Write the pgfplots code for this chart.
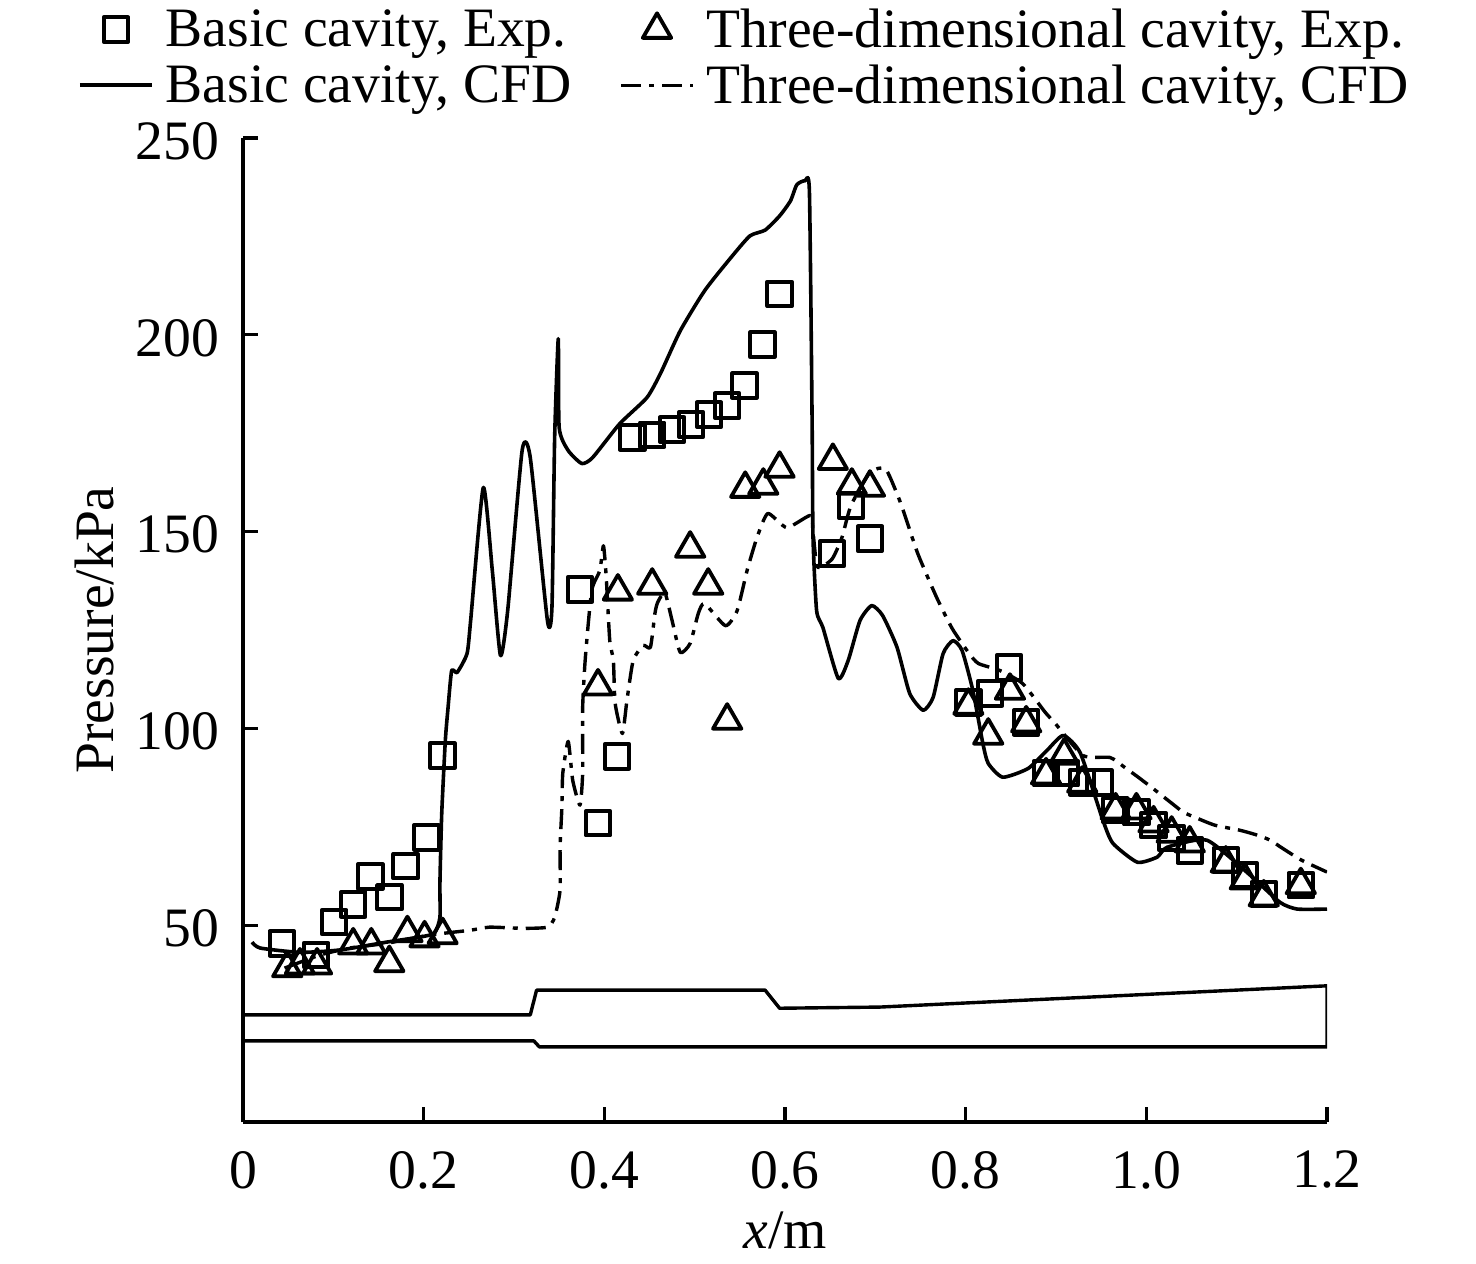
\documentclass[border=0pt]{standalone}
\usepackage{fontspec}
\setmainfont{Liberation Serif}
\usepackage{pgfplots}
\pgfplotsset{compat=1.18}

\begin{document}
\begin{tikzpicture}
\useasboundingbox (0,0) rectangle (738pt,631.5pt);
\begin{axis}[
    at={(121.5pt,70.5pt)}, anchor=south west,
    scale only axis, width=542pt, height=492pt,
    xmin=0, xmax=1.2, ymin=0, ymax=250,
    axis x line*=bottom, axis y line*=left,
    axis line style={-, line width=1.7pt},
    tick style={line width=1.7pt, black},
    tick align=inside, major tick length=7.5pt,
    xtick={0,0.2,0.4,0.6,0.8,1.0,1.2},
    xticklabels={0,0.2,0.4,0.6,0.8,1.0,1.2},
    ytick={50,100,150,200,250},
    /pgf/number format/assume math mode=true,
    ticklabel style={font=\fontsize{27.8}{30}\selectfont},
    yticklabel style={xshift=-8.5pt, yshift=-1.5pt},
    xticklabel style={yshift=-11pt},
    xtick pos=bottom, ytick pos=left,
    xlabel={\textit{x}/m}, ylabel={Pressure/kPa},
    every axis y label/.style={at={(axis description cs:-0.137,0.5)}, rotate=90, anchor=center, font=\fontsize{27.8}{30}\selectfont},
    every axis x label/.style={at={(axis description cs:0.5,-0.11)}, anchor=center, font=\fontsize{27.8}{30}\selectfont},
    legend image code/.code={\draw[mark repeat=2,mark phase=2,#1] plot coordinates {(0pt,0pt)(18pt,0pt)(36pt,0pt)};\path (40pt,0pt);},
    legend columns=2, legend cell align=left,
    legend style={draw=none, fill=none, at={(axis description cs:0.4635,1.028)}, anchor=south,
        font=\fontsize{27.8}{28}\selectfont, row sep=3pt, inner sep=0pt,
        /tikz/every even column/.append style={column sep=22pt}},
    line join=round,
]
\addplot[only marks, mark=square, mark size=6.1pt, mark options={line width=2pt}] coordinates {
(.043,45.4)(.081,42.4)(.101,50.8)(.122,55.3)(.141,62.4)(.162,57.1)(.180,65.0)(.203,72.3)(.221,93.1)
(.373,135.3)(.393,75.9)(.414,92.9)(.431,173.9)(.453,174.6)(.475,175.9)(.496,177.2)(.516,179.7)
(.536,182.0)(.555,187.1)(.575,197.5)(.594,210.4)(.652,144.4)(.673,156.6)(.694,148.2)(.803,106.6)
(.827,108.9)(.848,115.5)(.867,101.5)(.889,88.6)(.911,88.6)(.929,86.3)(.948,86.3)(.966,79.2)
(.989,78.7)(1.008,75.4)(1.028,72.1)(1.048,69.0)(1.088,66.5)(1.109,62.7)(1.130,57.9)(1.171,60.2)
};
\addlegendentry{Basic cavity, Exp.}
\addplot[only marks, mark=triangle, mark size=8.2pt, mark options={line width=1.9pt}] coordinates {
(.049,39.1)(.063,39.8)(.082,39.8)(.122,44.9)(.142,44.9)(.162,40.4)(.182,48.0)(.201,46.7)(.221,47.5)
(.393,110.7)(.415,134.8)(.453,136.3)(.495,145.7)(.515,136.3)(.536,102.0)(.556,160.9)(.576,161.7)
(.594,166.0)(.653,168.0)(.674,161.7)(.694,161.2)(.803,105.8)(.825,98.2)(.849,109.6)(.867,101.3)
(.889,88.1)(.909,93.1)(.929,86.0)(.966,79.2)(.989,79.2)(1.008,75.9)(1.028,73.3)(1.048,70.8)
(1.088,65.7)(1.109,61.4)(1.130,57.1)(1.171,60.2)
};
\addlegendentry{Three-dimensional cavity, Exp.}
% basic cavity CFD
\addplot[black, line width=1.8pt, smooth, tension=0.35] coordinates {
(.010,45.7)(.019,44.2)(.063,43.1)(.107,43.7)(.159,45.7)(.196,47.0)(.212,48.0)(.218,52.0)(.218,60.7)(.220,78.4)
(.224,97.0)(.227,105.3)(.231,114.7)(.237,114.2)(.248,119.0)(.252,127.4)(.266,161.2)(.276,140.1)
(.285,118.5)(.293,129.9)(.309,170.6)(.318,168.8)(.337,127.4)(.342,130.7)(.345,173.9)(.349,199.0)
(.350,176.4)(.360,170.6)(.375,167.3)(.387,168.8)(.417,177.4)(.447,184.0)(.462,190.1)(.484,201.0)
(.511,211.2)(.539,219.3)(.561,225.1)(.578,226.6)(.594,230.2)(.606,234.0)(.613,238.1)(.622,239.1)
(.627,236.5)(.630,178.2)(.631,148.5)(.635,129.9)(.642,125.6)(.659,112.7)(.670,117.3)(.683,127.4)
(.696,131.2)(.708,128.7)(.724,120.6)(.738,108.9)(.753,104.6)(.764,107.9)(.775,119.0)(.786,122.3)
(.796,119.8)(.808,109.6)(.819,96.2)(.825,91.1)(.841,87.6)(.869,89.8)(.890,94.4)(.908,98.2)
(.927,93.7)(.952,76.6)(.963,70.8)(.990,66.0)(1.012,67.3)(1.023,69.8)(1.067,71.6)(1.115,62.7)
(1.148,55.8)(1.167,54.1)(1.2,54.1)
};
\addlegendentry{Basic cavity, CFD}
% three-dimensional cavity CFD
\addplot[black, line width=1.7pt, smooth, tension=0.35, dash pattern=on 10pt off 4pt on 2.5pt off 4pt] coordinates {
(.046,39.1)(.085,42.4)(.118,44.2)(.159,45.4)(.207,47.5)(.251,48.7)(.273,49.5)(.310,49.2)(.337,49.5)
(.345,52.0)(.351,58.9)(.351,69.8)(.353,79.9)(.354,88.6)(.360,96.7)(.365,86.8)(.373,80.5)(.376,88.6)
(.376,105.3)(.379,118.0)(.386,135.0)(.395,140.1)(.399,146.4)(.402,138.8)(.406,122.3)(.410,117.3)
(.412,106.3)(.420,98.7)(.425,107.1)(.432,117.3)(.443,121.1)(.451,120.6)(.456,129.2)(.459,132.0)
(.467,134.5)(.475,127.4)(.484,119.3)(.495,121.6)(.504,129.2)(.511,131.7)(.534,126.1)(.547,129.9)
(.558,140.1)(.569,148.5)(.581,154.6)(.602,151.0)(.628,154.1)(.631,150.0)(.636,141.0)(.652,143.0)(.663,148.5)
(.673,156.6)(.694,165.0)(.711,166.0)(.724,159.6)(.731,155.3)(.747,144.4)(.768,133.2)(.785,125.4)
(.803,119.3)(.814,116.5)(.838,114.7)(.863,111.4)(.888,104.1)(.899,101.3)(.930,93.1)(.960,92.6)
(.976,90.1)(.991,87.6)(1.007,84.8)(1.028,81.0)(1.041,78.7)(1.056,77.2)(1.076,75.4)(1.104,74.1)
(1.124,72.8)(1.137,71.6)(1.151,69.5)(1.172,66.5)(1.2,63.5)
};
\addlegendentry{Three-dimensional cavity, CFD}
% cavity outline along the bottom
\addplot[black, line width=1.7pt, forget plot] coordinates {
(0,27.2)(.318,27.2)(.325,33.5)(.578,33.5)(.594,28.9)(.705,29.2)(1.2,34.6)(1.2,19.1)(.328,19.1)(.322,20.6)(0,20.6)
};
\end{axis}
\end{tikzpicture}
\end{document}
